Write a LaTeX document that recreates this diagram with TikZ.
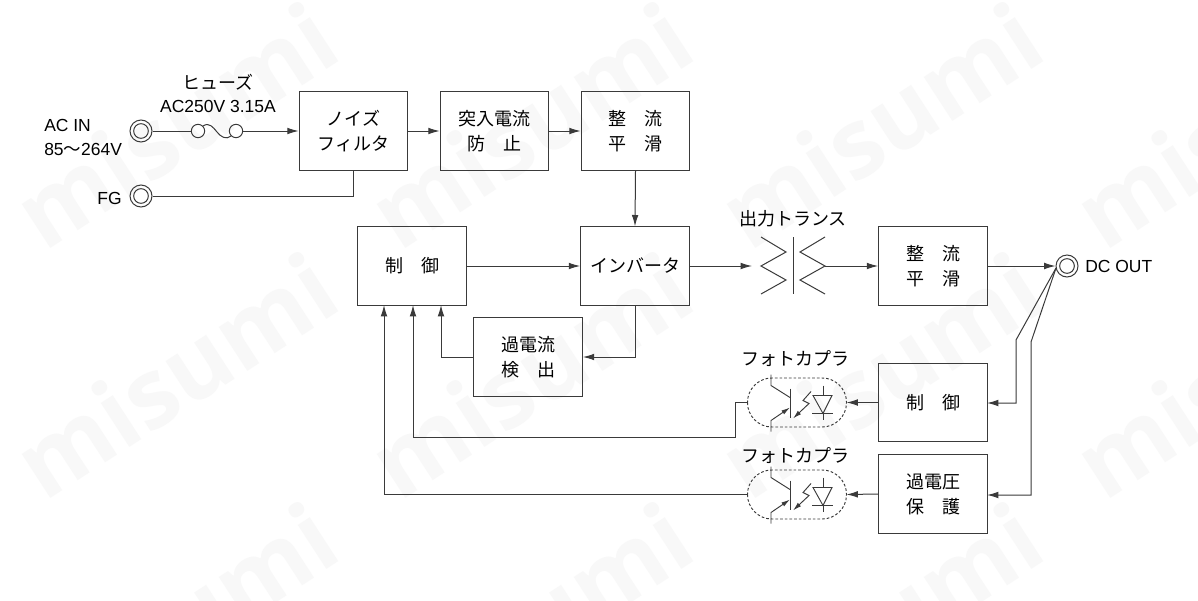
\documentclass[tikz,border=0pt]{standalone}
\usepackage{fontspec}
\setmainfont{Liberation Sans}
\newfontfamily\cjk{Noto Sans CJK JP}
\newfontfamily\wmfont{Open Sans}
\usetikzlibrary{arrows.meta,calc}
\definecolor{ink}{HTML}{3A3A3A}
\definecolor{wmgray}{HTML}{F8F8F8}
\tikzset{
  boxn/.style={draw=ink,line width=0.8pt,minimum width=81.5pt,minimum height=58.7pt,inner sep=0pt,align=center,font=\cjk\fontsize{13.5}{18.8}\selectfont,text=black},
  conn/.style={draw=ink,line width=0.75pt},
  arr/.style={conn,-{Latex[length=8.5pt,width=5pt]}},
  lbl/.style={inner sep=0pt,font=\fontsize{13.1}{18}\selectfont,text=black},
  jlbl/.style={inner sep=0pt,font=\cjk\fontsize{13.5}{18}\selectfont,text=black},
  dot/.style={circle,draw=ink,line width=0.75pt,inner sep=0pt,minimum size=#1},
  wm/.style={text=wmgray,rotate=33,font=\wmfont\fontsize{72}{72}\selectfont\bfseries,inner sep=0pt},
  part/.style={draw=ink,line width=0.7pt}
}
% opto coupler drawn at vertical centre #1
\newcommand{\opto}[1]{%
  \begin{scope}[shift={(0,#1)}]
    \draw[ink,line width=0.7pt,dash pattern=on 2pt off 1.5pt,rounded corners=18.3pt] (747.5,-24.5) rectangle (846.5,24.5);
    \draw[part] (771,-28) -- (771,-17) -- (790,-5);
    \draw[part] (790,-14) -- (790,15);
    \draw[part,-{Latex[length=6.5pt,width=3.5pt]}] (771,29) -- (771,18) -- (790,5);
    \draw[part,{Latex[length=6.5pt,width=3.5pt]}-] (793,16) -- (809,1) -- (803,-2) -- (811,-11);
    \draw[part] (813,-7) -- (832,-7) -- (823,11) -- cycle;
    \draw[part] (812,11) -- (833,11);
    \draw[part] (823,-17) -- (823,-7) (823,11) -- (823,17);
  \end{scope}}
\begin{document}
\begin{tikzpicture}[x=0.75pt,y=-0.75pt]
\useasboundingbox (0,0) rectangle (1198,600);
\fill[white] (0,0) rectangle (1198,600);
\begin{scope}
  \clip (0,0) rectangle (1198,600);
  \node[wm] (w1) at (175,125) {misumi};
  \node[wm] (w2) at (530,125) {misumi};
  \node[wm] (w3) at (880,125) {misumi};
  \node[wm] (w4) at (1235,125) {misumi};
  \node[wm] (w5) at (175,375) {misumi};
  \node[wm] (w6) at (530,375) {misumi};
  \node[wm] (w7) at (880,375) {misumi};
  \node[wm] (w8) at (1235,375) {misumi};
  \node[wm] (w9) at (175,625) {misumi};
  \node[wm] (w10) at (530,625) {misumi};
  \node[wm] (w11) at (880,625) {misumi};
\end{scope}

\node[boxn] (nf) at (353.5,131) {ノイズ\\フィルタ};
\node[boxn] (ir) at (494.5,131) {突入電流\\防　止};
\node[boxn] (r1) at (635.5,131) {整　流\\平　滑};
\node[boxn] (c1) at (412,266) {\raisebox{1.8pt}{制　御}};
\node[boxn] (inv) at (635,266) {\raisebox{1.8pt}{インバータ}};
\node[boxn] (r2) at (933,266) {整　流\\平　滑};
\node[boxn] (oc) at (528,357) {\raisebox{0.6pt}{過電流}\\\raisebox{0.6pt}{検　出}};
\node[boxn] (c2) at (933,402.5) {\raisebox{1.6pt}{制　御}};
\node[boxn] (ov) at (933,494) {過電圧\\保　護};

\node[dot=16.5pt] (acin) at (141,131) {};
\node[dot=11pt] at (141,131) {};
\node[dot=16.5pt] (fg) at (141,196) {};
\node[dot=11pt] at (141,196) {};
\node[dot=16.5pt] (dc) at (1067,266) {};
\node[dot=11pt] at (1067,266) {};

\node[dot=10pt] (f1) at (198,131) {};
\node[dot=10pt] (f2) at (236,131) {};

\node[lbl,anchor=west] (t1) at (44,125) {AC IN};
\node[lbl,anchor=west] (t2) at (44,149) {85{\cjk 〜}264V};
\node[lbl,anchor=east] (t3) at (122,198) {FG};
\node[jlbl] (t4) at (218,82) {ヒューズ};
\node[lbl] (t5) at (218,106) {AC250V 3.15A};
\node[jlbl] (t6) at (793,219) {出力トランス};
\node[lbl,anchor=west] (t7) at (1085,266) {DC OUT};
\node[jlbl] (t8) at (795,359) {フォトカプラ};
\node[jlbl] (t9) at (795,456) {フォトカプラ};

% fuse
\draw[conn] (acin) -- (f1);
\draw[arr] (f2) -- (nf.west);
\draw[conn] (f1.north east) .. controls (209,122) and (213,127) .. (217,132) .. controls (221,137) and (226,140) .. (f2.south west);

% main chain
\draw[conn] (fg) -- (fg -| nf.south) -- (nf.south);
\draw[arr] (nf) -- (ir);
\draw[arr] (ir) -- (r1);
\draw[arr] (r1.south) -- (inv.north);
\draw[arr] (c1) -- (inv);
\draw[arr] (inv.south) |- (oc.east);
\coordinate (ocup) at (441,305);
\draw[arr] (oc.west) -| (ocup);

% transformer
\coordinate (tl) at (752,266);
\coordinate (tr) at (825,266);
\draw[arr] (inv.east) -- (tl);
\draw[conn] (761,237) -- (786,252) -- (761,266) -- (786,280) -- (761,294);
\draw[conn] (825,237) -- (800,252) -- (825,266) -- (800,280) -- (825,294);
\draw[conn] (793,237) -- (793,294);
\draw[arr] (tr) -- (r2.west);
\draw[arr] (r2.east) -- (dc.west);

% opto couplers
\opto{402.5}
\opto{494.5}
\draw[arr] (c2.west) -- (846.5,402.5);
\draw[arr] (ov.west) -- (846.5,494.5);
\coordinate (c1a) at (413,305);
\coordinate (c1b) at (384,305);
\draw[arr] (747.5,402.5) -- (735,402.5) -- (735,437) -- (413,437) -- (c1a);
\draw[arr] (747.5,494.5) -- (384,494.5) -- (c1b);

% DC OUT feedback
\coordinate (dcj) at (1056,268);
\draw[arr] (dcj) -- (1016,340) -- (1016,403) -- (987,403);
\draw[arr] (dcj) -- (1031,342) -- (1031,495) -- (987,495);
\end{tikzpicture}
\end{document}
